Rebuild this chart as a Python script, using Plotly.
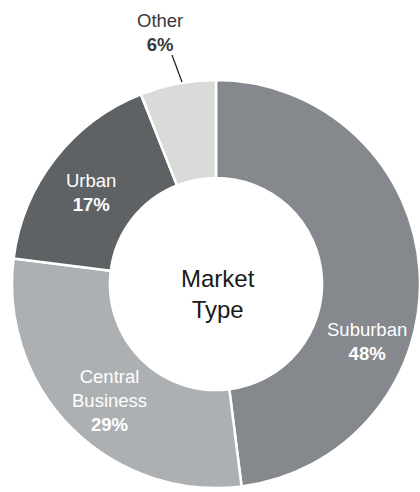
import plotly.graph_objects as go

# ---- data ----
categories = ["Suburban", "Central Business", "Urban", "Other"]
values = [48, 29, 17, 6]
colors = ["#85888d", "#adb0b3", "#5f6264", "#d9dbd8"]
center_title = "Market<br>Type"

W, H = 420, 492
FONT = "Liberation Sans, Arial, sans-serif"

# label placement (pixel coordinates in the 420x492 canvas)
label_px = {
    "Suburban": (367, 341),
    "Central Business": (109, 400),
    "Urban": (91, 192),
    "Other": (160, 32),
}
label_color = {
    "Suburban": "white",
    "Central Business": "white",
    "Urban": "white",
    "Other": "#3a3a3a",
}


def px2paper(x, y):
    return x / W, 1 - y / H


fig = go.Figure()
fig.add_trace(go.Pie(
    labels=categories,
    values=values,
    sort=False,
    direction="clockwise",
    rotation=0,
    hole=0.52,
    marker=dict(colors=colors, line=dict(color="white", width=2.5)),
    textinfo="none",
    hoverinfo="label+percent",
    showlegend=False,
    domain=dict(x=[12 / W, 1.0], y=[1 - 488 / H, 1 - 80 / H]),
))

annotations = []
for cat, val in zip(categories, values):
    x, y = px2paper(*label_px[cat])
    name = cat.replace(" ", "<br>")
    annotations.append(dict(
        x=x, y=y, xref="paper", yref="paper",
        text=f"{name}<br><b>{val}%</b>",
        showarrow=False, xanchor="center", yanchor="middle",
        font=dict(family=FONT, size=18.5, color=label_color[cat]),
    ))

cx, cy = px2paper(218, 294)
annotations.append(dict(
    x=cx, y=cy, xref="paper", yref="paper", text=center_title,
    showarrow=False, xanchor="center", yanchor="middle",
    font=dict(family=FONT, size=24, color="#1a1a1a"),
))

x0, y0 = px2paper(172, 55)
x1, y1 = px2paper(182, 82)
fig.update_layout(
    width=W, height=H,
    margin=dict(l=0, r=0, t=0, b=0),
    paper_bgcolor="white",
    plot_bgcolor="white",
    annotations=annotations,
    shapes=[dict(type="line", xref="paper", yref="paper",
                 x0=x0, y0=y0, x1=x1, y1=y1,
                 line=dict(color="#1a1a1a", width=1.2))],
    font=dict(family=FONT),
)

fig.write_html(
    "out.html",
    config={"displayModeBar": False},
    post_script="document.body.style.margin='0';document.body.style.overflow='hidden';",
)
